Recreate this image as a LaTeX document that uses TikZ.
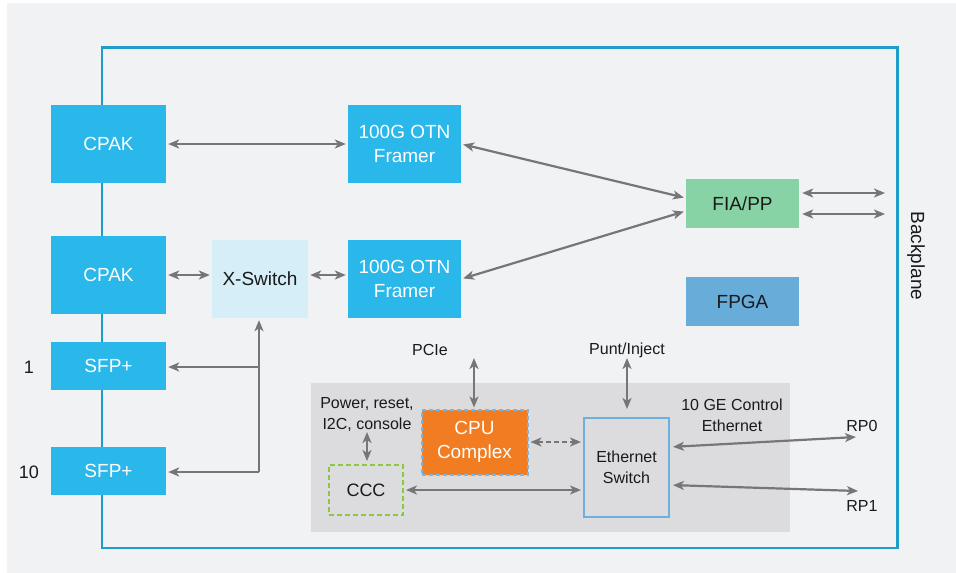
\documentclass[tikz,border=0pt]{standalone}
\usepackage{fontspec}
\setmainfont{Liberation Sans}
\usetikzlibrary{arrows.meta,calc}
\definecolor{bgc}{HTML}{F1F2F4}
\definecolor{frameblue}{HTML}{1E9DCB}
\definecolor{cpakc}{HTML}{2AB7EA}
\definecolor{xswc}{HTML}{D6EEF8}
\definecolor{fiac}{HTML}{88D3A5}
\definecolor{fpgac}{HTML}{68ACD9}
\definecolor{cpuc}{HTML}{F17C21}
\definecolor{cpubd}{HTML}{7DB5DC}
\definecolor{regc}{HTML}{DCDCDE}
\definecolor{ethbd}{HTML}{6CB0DD}
\definecolor{cccbd}{HTML}{8DC63F}
\definecolor{arrc}{HTML}{767678}
\definecolor{txtc}{HTML}{1A1A1A}
\tikzset{
  blk/.style={rectangle, inner sep=0pt, align=center, font=\fontsize{19}{24}\selectfont},
  cyanbox/.style={blk, fill=cpakc, text=white},
  lbl/.style={inner sep=0pt, align=center, text=txtc, font=\fontsize{16}{21}\selectfont},
  tip/.tip={Stealth[length=11pt,width=9pt,inset=3pt]},
  arr/.style={draw=arrc, line width=2.2pt, tip-tip},
  arrr/.style={draw=arrc, line width=2.2pt, -tip},
  gap/.style={shorten <=2pt, shorten >=2pt}
}
\begin{document}
\begin{tikzpicture}[x=1pt,y=-1pt]
\useasboundingbox (0,0) rectangle (956,573);
\fill[white] (0,0) rectangle (956,573);
\fill[bgc] (7,3) rectangle (956,573);
% gray region
\fill[regc] (311,383) rectangle (790,532);
% outer frame
\draw[frameblue, line width=2.5pt] (102,47.5) rectangle (897.5,548);
% nodes
\node[cyanbox, minimum width=115pt, minimum height=78pt] (cpak1) at (108.5,144) {CPAK};
\node[cyanbox, minimum width=115pt, minimum height=78pt] (cpak2) at (108.5,275) {CPAK};
\node[cyanbox, minimum width=113pt, minimum height=78pt] (fr1) at (404.5,144) {100G OTN\\Framer};
\node[cyanbox, minimum width=113pt, minimum height=78pt] (fr2) at (404.5,279) {100G OTN\\Framer};
\node[blk, fill=xswc, text=txtc, minimum width=96pt, minimum height=78pt] (xs) at (260,279) {X-Switch};
\node[blk, fill=fiac, text=txtc, minimum width=113pt, minimum height=49pt] (fia) at (742.5,203.5) {FIA/PP};
\node[blk, fill=fpgac, text=txtc, minimum width=113pt, minimum height=49pt] (fpga) at (742.5,301.5) {FPGA};
\node[cyanbox, minimum width=115pt, minimum height=48pt] (sfp1) at (108.5,366) {SFP+};
\node[cyanbox, minimum width=115pt, minimum height=48pt] (sfp10) at (108.5,471) {SFP+};
\node[lbl, font=\fontsize{18}{21}\selectfont] (n1) at (29,367) {1};
\node[lbl, font=\fontsize{18}{21}\selectfont] (n10) at (29,472) {10};
\node[lbl, font=\fontsize{19}{21}\selectfont, rotate=-90] (bp) at (916,256) {Backplane};
\node[blk, fill=cpuc, text=white, draw=cpubd, line width=2pt, dash pattern=on 4pt off 3pt, minimum width=106pt, minimum height=65pt] (cpu) at (474.5,442) {CPU\\Complex};
\node[blk, fill=regc, text=txtc, draw=ethbd, line width=2pt, minimum width=85pt, minimum height=99pt, font=\fontsize{16}{21}\selectfont] (eth) at (626.5,467.5) {Ethernet\\Switch};
\node[blk, fill=regc, text=txtc, draw=cccbd, line width=2pt, dash pattern=on 5pt off 3pt, minimum width=74pt, minimum height=50pt, font=\fontsize{18}{21}\selectfont] (ccc) at (366,490) {CCC};
\node[lbl] (pcie) at (430,350) {PCIe};
\node[lbl] (punt) at (627,350) {Punt/Inject};
\node[lbl] (pwr) at (367,415) {Power, reset,\\I2C, console};
\node[lbl] (ctl) at (732,415) {10 GE Control\\Ethernet};
\node[lbl] (rp0) at (862,426) {RP0};
\node[lbl] (rp1) at (862,506) {RP1};
% free-end coordinates
\coordinate (bpa) at (885,193);
\coordinate (bpb) at (885,214);
\coordinate (jn1) at (259,367);
\coordinate (jn10) at (259,472);
\coordinate (pcieend) at (474,358);
\coordinate (puntend) at (627,358);
\coordinate (pwrend) at (367,432);
\coordinate (rp0end) at (856,437);
\coordinate (rp1end) at (858,491);
% connectors
\draw[arr, gap] (cpak1.east) -- (fr1.west);
\draw[arr, gap] (cpak2.east) -- (cpak2.east -| xs.west);
\draw[arr, gap] (cpak2.east -| xs.east) -- (cpak2.east -| fr2.west);
\draw[arr, gap] (fr1.east) -- ([yshift=5.5pt]fia.west);
\draw[arr, gap] (fr2.east) -- ([yshift=-7.5pt]fia.west);
\draw[arr, shorten <=3pt] (fia.east |- bpa) -- (bpa);
\draw[arr, shorten <=3pt] (fia.east |- bpb) -- (bpb);
\draw[arrr, shorten >=2pt] (jn10) -- (jn10 |- xs.south);
\draw[arrr, shorten >=2pt] (jn1) -- (jn1 -| sfp1.east);
\draw[arrr, shorten >=2pt] (jn10) -- (jn10 -| sfp10.east);
\draw[arr, shorten >=1pt] (pcieend) -- (pcieend |- cpu.north);
\draw[arr, shorten >=8pt] (puntend) -- (puntend |- eth.north);
\draw[arr, shorten >=3pt] (pwrend) -- (pwrend |- ccc.north);
\draw[arr, gap, dash pattern=on 5pt off 3pt] (cpu.east) -- (cpu.east -| eth.west);
\draw[arr, gap] (ccc.east) -- (ccc.east -| eth.west);
\draw[arr, shorten <=3pt] ([yshift=20.5pt]eth.east) -- (rp0end);
\draw[arr, shorten <=3pt] ([yshift=-17.5pt]eth.east) -- (rp1end);
\end{tikzpicture}
\end{document}
